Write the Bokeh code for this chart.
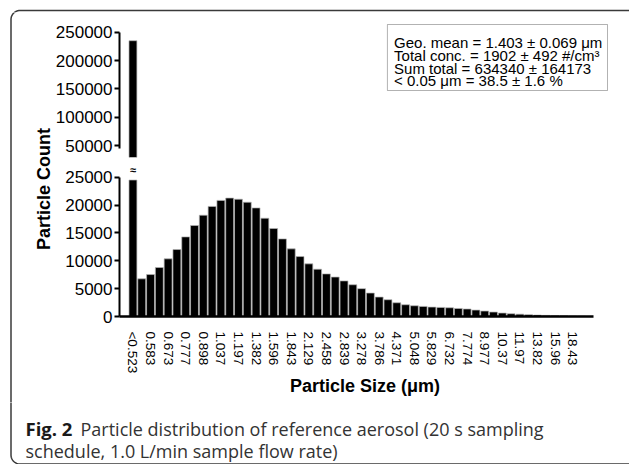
import numpy as np
from bokeh.plotting import figure
from bokeh.models import (Range1d, FixedTicker, Label, ColumnDataSource,
                          NumeralTickFormatter, BoxAnnotation)
from bokeh.layouts import column, row
from bokeh.embed import file_html
from bokeh.resources import INLINE

# ---------------- data ----------------
size_labels = ["<0.523", "0.542", "0.583", "0.626", "0.673", "0.723", "0.777", "0.835",
               "0.898", "0.965", "1.037", "1.114", "1.197", "1.286", "1.382", "1.486",
               "1.596", "1.715", "1.843", "1.981", "2.129", "2.288", "2.458", "2.642",
               "2.839", "3.051", "3.278", "3.523", "3.786", "4.068", "4.371", "4.698",
               "5.048", "5.425", "5.829", "6.264", "6.732", "7.234", "7.774", "8.354",
               "8.977", "9.647", "10.37", "11.14", "11.97", "12.86", "13.82", "14.86",
               "15.96", "17.15", "18.43", "19.81"]
counts = [235000, 6760, 7530, 8790, 10350, 12020, 14290, 16330, 18180, 19760, 20840,
          21260, 21050, 20510, 19490, 17640, 15790, 13930, 12140, 10760, 9450, 8490,
          7650, 7080, 6390, 5700, 5000, 4210, 3490, 3010, 2470, 2110, 1930, 1810, 1690,
          1630, 1570, 1440, 1350, 1150, 980, 800, 620, 500, 420, 320, 260, 200, 170,
          130, 100, 60]
upper_ticks = [50000, 100000, 150000, 200000, 250000]
lower_ticks = [0, 5000, 10000, 15000, 20000, 25000]
stats_lines = ["Geo. mean = 1.403 \u00b1 0.069 \u03bcm",
               "Total conc. = 1902 \u00b1 492 #/cm\u00b3",
               "Sum total = 634340 \u00b1 164173",
               "< 0.05 \u03bcm = 38.5 \u00b1 1.6 %"]
caption_bold = "Fig. 2"
caption_line1 = "Particle distribution of reference aerosol (20 s sampling"
caption_line2 = "schedule, 1.0 L/min sample flow rate)"
BREAK_LOW = 24500   # the tall bar is cut here in the lower panel

FONT = "Liberation Sans"
CAP_FONT = "Open Sans"
FRAME_COLOR = "#3a3a3a"

# ---------------- layout constants (page pixels) ----------------
W = 629
STRIP_H = 12
ROW_H = 390
CAP_H = 62
LAB_W = 52
MAIN_W = W - LAB_W
ML, MR = 65, 19                # main figure borders -> frame x 117..610
TOP_H, BOT_H = 148, 242
TOP_RANGE = (28840, 270650)    # frame 20..157 px
BOT_RANGE = (0, 28000)         # frame 160..316 px
X_LEFT = -1.529
PITCH = 8.83
FRAME_W = MAIN_W - ML - MR
X_RIGHT = X_LEFT + FRAME_W / PITCH
X_AXIS_END = 52.38


def top_val(py):   # page y -> value in upper panel
    return TOP_RANGE[1] - (py - 20) * (TOP_RANGE[1] - TOP_RANGE[0]) / 137.0


def bot_val(py):
    return (316 - py) * (BOT_RANGE[1] - BOT_RANGE[0]) / 156.0


def x_val(px):
    return X_LEFT + (px - 117) / PITCH


cnt = np.array(counts)
x = np.arange(len(counts))
src_low = ColumnDataSource(dict(x=x, top=np.minimum(cnt, BREAK_LOW)))
tall = cnt > TOP_RANGE[0]
src_high = ColumnDataSource(dict(x=x[tall], top=cnt[tall]))

xr = Range1d(X_LEFT, X_RIGHT)


def base(fig):
    fig.grid.visible = False
    fig.outline_line_color = None
    fig.background_fill_color = "white"
    fig.border_fill_color = "white"


def style_y(ax, ticks, bounds):
    ax.ticker = FixedTicker(ticks=ticks)
    ax.formatter = NumeralTickFormatter(format="0")
    ax.bounds = bounds
    ax.axis_line_width = 2
    ax.axis_line_color = "black"
    ax.major_tick_line_width = 2
    ax.major_tick_line_color = "black"
    ax.major_tick_out = 5
    ax.major_tick_in = 0
    ax.minor_tick_line_color = None
    ax.major_label_text_font = FONT
    ax.major_label_text_font_size = "17px"
    ax.major_label_text_color = "black"
    ax.major_label_standoff = 2


# frame path (page coordinates), rounded on the left
R = 9
FL, FT, FB = 10.5, 10.0, 463.5


def frame_path():
    tt = np.linspace(0, np.pi / 2, 14)
    c1x = FL + R - R * np.sin(tt)
    c1y = FT + R - R * np.cos(tt)
    c2x = FL + R - R * np.cos(tt)
    c2y = FB - R + R * np.sin(tt)
    xs = np.concatenate([[W + 5], c1x, c2x, [W + 5]])
    ys = np.concatenate([[FT], c1y, c2y, [FB]])
    return xs, ys


FX, FY = frame_path()


def deco_fig(w, h, x0, y0):
    f = figure(width=w, height=h, x_range=Range1d(x0, x0 + w), y_range=Range1d(y0 + h, y0),
               output_backend="svg", toolbar_location=None, min_border=0,
               x_axis_location=None, y_axis_location=None)
    base(f)
    f.line(FX, FY, line_color=FRAME_COLOR, line_width=1.5)
    return f


BAR_KW = dict(width=0.9, fill_color="black", line_color="#b5b5b5", line_width=0.7)

# ---------------- top strip ----------------
strip = deco_fig(W, STRIP_H, 0, 0)

# ---------------- upper panel ----------------
top = figure(width=MAIN_W, height=TOP_H, x_range=xr, y_range=Range1d(*TOP_RANGE),
             output_backend="svg", toolbar_location=None, x_axis_location=None,
             min_border_left=ML, min_border_right=MR, min_border_top=8, min_border_bottom=3)
base(top)
top.vbar(x="x", bottom=BREAK_LOW, top="top", source=src_high, **BAR_KW)
style_y(top.yaxis[0], upper_ticks, (45000, 250000))

top.add_layout(BoxAnnotation(left=x_val(386), right=x_val(607), top=top_val(24), bottom=top_val(90),
                             fill_color="white", fill_alpha=1.0, line_color="black", line_width=1))
for txt, py in zip(stats_lines, [42.3, 55.0, 67.5, 80.0]):
    top.add_layout(Label(x=x_val(392.7), y=top_val(py), text=txt,
                         text_align="left", text_baseline="middle",
                         text_font=FONT, text_font_size="15px", text_color="black"))

# ---------------- lower panel ----------------
bot = figure(width=MAIN_W, height=BOT_H, x_range=xr, y_range=Range1d(*BOT_RANGE),
             output_backend="svg", toolbar_location=None,
             min_border_left=ML, min_border_right=MR, min_border_top=0, min_border_bottom=86)
base(bot)
bot.vbar(x="x", top="top", source=src_low, **BAR_KW)
style_y(bot.yaxis[0], lower_ticks, (0, 25000))

xa = bot.xaxis[0]
even = list(range(0, len(size_labels), 2))
xa.ticker = FixedTicker(ticks=even)
xa.major_label_overrides = {i: size_labels[i] for i in even}
xa.bounds = (X_LEFT, X_AXIS_END)
xa.axis_line_width = 2.5
xa.axis_line_color = "black"
xa.major_tick_line_color = None
xa.minor_tick_line_color = None
xa.major_label_orientation = "vertical"
xa.major_label_standoff = 9
xa.major_label_text_font = FONT
xa.major_label_text_font_size = "13.5px"
xa.major_label_text_color = "black"
xa.axis_label = "Particle Size (\u03bcm)"
xa.axis_label_text_font = FONT
xa.axis_label_text_font_style = "bold"
xa.axis_label_text_font_size = "18px"
xa.axis_label_text_color = "black"
xa.axis_label_standoff = 0

bot.add_layout(Label(x=0, y=bot_val(169.5), text="\u2248", text_align="center",
                     text_baseline="middle", text_font=FONT, text_font_size="11px",
                     text_font_style="bold", text_color="black"))

# ---------------- y label column ----------------
lab = deco_fig(LAB_W, ROW_H, 0, STRIP_H)
lab.add_layout(Label(x=43, y=188.5, text="Particle Count", angle=np.pi / 2,
                     text_align="center", text_baseline="middle",
                     text_font=FONT, text_font_style="bold", text_font_size="18px",
                     text_color="black"))

# ---------------- caption ----------------
cap = deco_fig(W, CAP_H, 0, STRIP_H + ROW_H)
cap.add_layout(Label(x=25, y=428, text=caption_bold, text_align="left",
                     text_baseline="alphabetic", text_font=CAP_FONT, text_font_style="bold",
                     text_font_size="18.5px", text_color="#1a1a1a"))
cap.add_layout(Label(x=80, y=428, text=caption_line1, text_align="left",
                     text_baseline="alphabetic", text_font=CAP_FONT,
                     text_font_size="18px", text_color="#333333"))
cap.add_layout(Label(x=25, y=450, text=caption_line2, text_align="left",
                     text_baseline="alphabetic", text_font=CAP_FONT,
                     text_font_size="18px", text_color="#333333"))

layout = column(strip, row(lab, column(top, bot)), cap)

open("out.html", "w").write(file_html(layout, INLINE))
